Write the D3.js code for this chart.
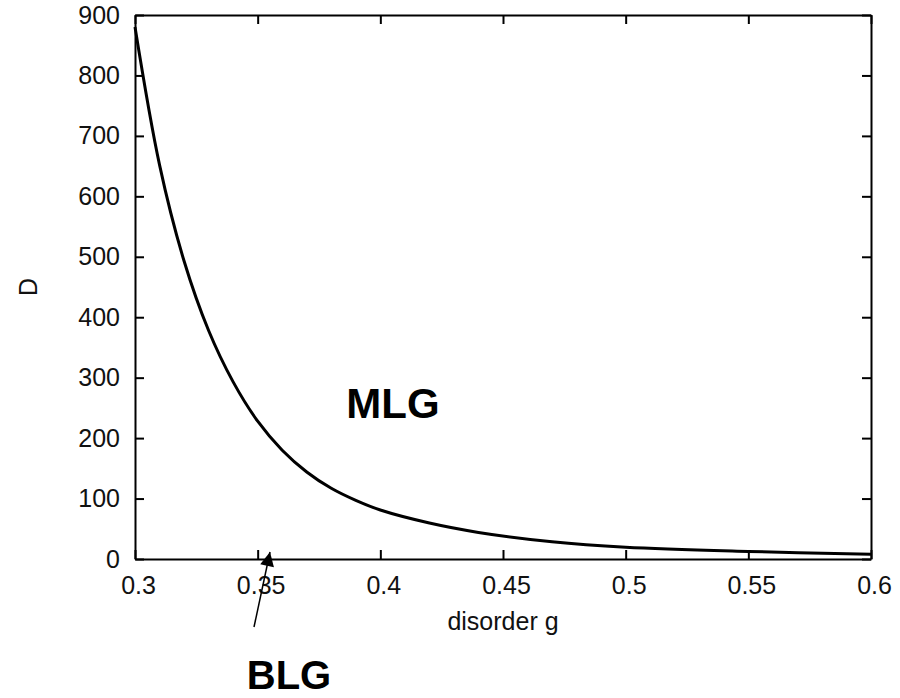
<!DOCTYPE html>
<html>
<head>
<meta charset="utf-8">
<script src="https://cdn.jsdelivr.net/npm/d3@7"></script>
<style>
  body { margin: 0; background: #fff; }
  svg { display: block; font-family: "Liberation Sans", Arial, sans-serif; }
</style>
</head>
<body>
<svg id="chart" width="900" height="698"></svg>
<script>
// values
const gValues = [0.30, 0.31, 0.32, 0.33, 0.34, 0.35, 0.36, 0.37, 0.38, 0.39, 0.40, 0.42, 0.44, 0.47, 0.50, 0.55, 0.60];
const dValues = [880, 652, 493, 378, 293, 228, 180, 144, 117, 97, 81, 59.5, 44, 28.5, 19.5, 12.5, 8];
const xTicks = [0.3, 0.35, 0.4, 0.45, 0.5, 0.55, 0.6];
const yTicks = [0, 100, 200, 300, 400, 500, 600, 700, 800, 900];

const textColor = '#111';
const axisColor = '#000';

const svg = d3.select("#chart");
const margin = { top: 15, right: 29, bottom: 139, left: 135 };
const width = +svg.attr("width") - margin.left - margin.right;
const height = +svg.attr("height") - margin.top - margin.bottom;
const g = svg.append("g").attr("transform", `translate(${margin.left},${margin.top})`);

const x = d3.scaleLinear().domain([0.3, 0.6]).range([0, width]);
const y = d3.scaleLinear().domain([0, 900]).range([height, 0]);

const data = gValues.map((v, i) => ({ g: v, d: dValues[i] }));

function styleAxis(sel) {
  sel.select(".domain").attr("stroke", axisColor).attr("stroke-width", 2);
  sel.selectAll(".tick line").attr("stroke", axisColor).attr("stroke-width", 2);
  sel.selectAll("text").style("font-size", "25px").attr("fill", textColor);
}

// bottom
g.append("g")
  .attr("transform", `translate(0,${height})`)
  .call(d3.axisBottom(x).tickValues(xTicks).tickSizeInner(-9).tickSizeOuter(0)
    .tickPadding(17).tickFormat(d => String(d)))
  .call(styleAxis)
  .selectAll("text").attr("dx", 3);

// top (mirror ticks)
g.append("g")
  .call(d3.axisTop(x).tickValues(xTicks).tickSizeInner(-9).tickSizeOuter(0).tickFormat(""))
  .call(styleAxis);

// left
g.append("g")
  .call(d3.axisLeft(y).tickValues(yTicks).tickSizeInner(-9).tickSizeOuter(0)
    .tickPadding(15).tickFormat(d => String(d)))
  .call(styleAxis);

// right (mirror ticks)
g.append("g")
  .attr("transform", `translate(${width},0)`)
  .call(d3.axisRight(y).tickValues(yTicks).tickSizeInner(-9).tickSizeOuter(0).tickFormat(""))
  .call(styleAxis);

// axis titles
g.append("text")
  .attr("x", width / 2)
  .attr("y", 615)
  .attr("text-anchor", "middle")
  .style("font-size", "25px")
  .attr("fill", textColor)
  .text("disorder g");

svg.append("text")
  .attr("transform", `translate(37,${margin.top + height / 2}) rotate(-90)`)
  .attr("text-anchor", "middle")
  .style("font-size", "25px")
  .attr("fill", textColor)
  .text("D");

// curve
const line = d3.line()
  .x(d => x(d.g))
  .y(d => y(d.d))
  .curve(d3.curveCatmullRom.alpha(0.5));

g.append("path")
  .datum(data)
  .attr("fill", "none")
  .attr("stroke", "#000")
  .attr("stroke-width", 3)
  .attr("d", line);

// region labels
svg.append("text")
  .attr("x", 393)
  .attr("y", 418)
  .attr("text-anchor", "middle")
  .style("font-size", "42px")
  .style("font-weight", "bold")
  .attr("fill", "#000")
  .text("MLG");

svg.append("text")
  .attr("x", 289)
  .attr("y", 689)
  .attr("text-anchor", "middle")
  .style("font-size", "40px")
  .style("font-weight", "bold")
  .attr("fill", "#000")
  .text("BLG");

// arrow pointing at the axis near g = 0.355
svg.append("defs").append("marker")
  .attr("id", "arrowhead")
  .attr("viewBox", "0 0 10 10")
  .attr("refX", 10)
  .attr("refY", 5)
  .attr("markerUnits", "userSpaceOnUse")
  .attr("markerWidth", 16)
  .attr("markerHeight", 14)
  .attr("orient", "auto")
  .append("path")
  .attr("d", "M0,0 L10,5 L0,10 Z")
  .attr("fill", "#000");

svg.append("line")
  .attr("x1", 254)
  .attr("y1", 627)
  .attr("x2", 270)
  .attr("y2", 552)
  .attr("stroke", "#000")
  .attr("stroke-width", 1.5)
  .attr("marker-end", "url(#arrowhead)");
</script>
</body>
</html>
